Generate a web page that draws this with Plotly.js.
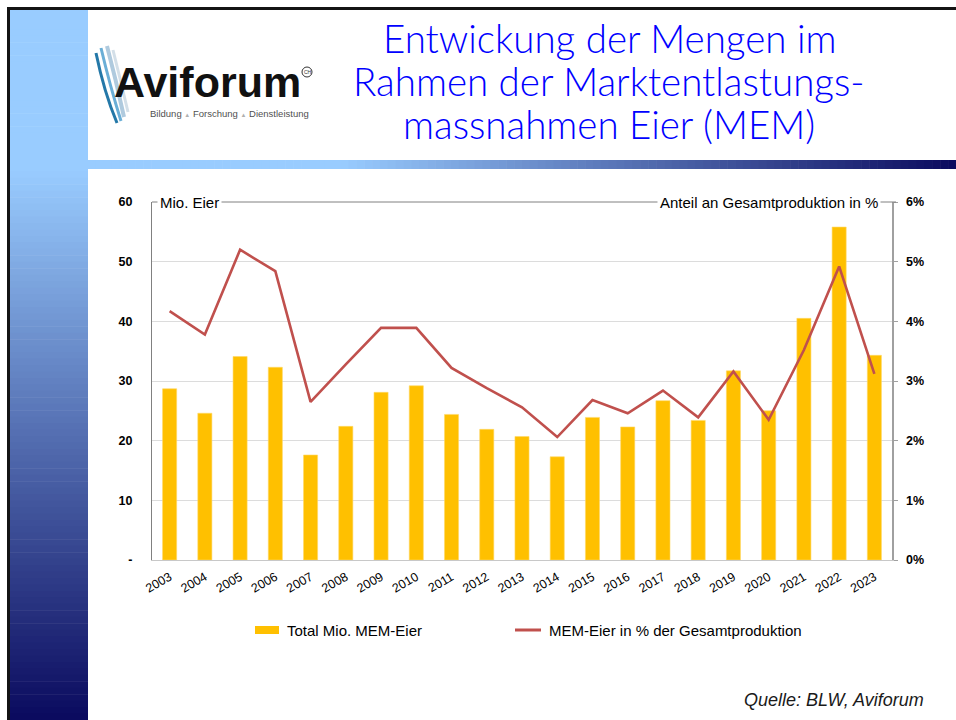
<!DOCTYPE html>
<html>
<head>
<meta charset="utf-8">
<script src="https://cdn.plot.ly/plotly-3.0.1.min.js"></script>
<style>
  html, body { margin: 0; padding: 0; background: #ffffff; }
  #chart { width: 956px; height: 720px; }
</style>
</head>
<body>
<div id="chart"></div>
<script>
// ---- data ----
const years = ['2003','2004','2005','2006','2007','2008','2009','2010','2011','2012','2013',
               '2014','2015','2016','2017','2018','2019','2020','2021','2022','2023'];
const mioEier = [28.7,24.6,34.1,32.3,17.6,22.4,28.1,29.2,24.4,21.9,20.7,
                 17.3,23.9,22.3,26.7,23.4,31.7,25.0,40.5,55.8,34.3];
const anteilProzent = [4.17,3.78,5.20,4.84,2.65,3.28,3.89,3.89,3.22,2.88,2.56,
                       2.06,2.68,2.46,2.84,2.39,3.16,2.35,3.52,4.92,3.12];
const leftTickVals = [0,10,20,30,40,50,60];
const leftTickText = ['-','10','20','30','40','50','60'];
const rightTickVals = [0,1,2,3,4,5,6];
const rightTickText = ['0%','1%','2%','3%','4%','5%','6%'];
const seriesNames = ['Total Mio. MEM-Eier','MEM-Eier in % der Gesamtproduktion'];
const titleLines = ['Entwickung der Mengen im','Rahmen der Marktentlastungs-','massnahmen Eier (MEM)'];
const leftAxisTitle = 'Mio. Eier';
const rightAxisTitle = 'Anteil an Gesamtproduktion in %';
const sourceText = 'Quelle: BLW, Aviforum';
const logoName = 'Aviforum';
const logoTagline = ['Bildung','Forschung','Dienstleistung'];

// ---- geometry helpers (pixel -> paper) ----
const L = 152, R = 892, T = 202, B = 560;
const px = x => (x - L) / (R - L);
const py = y => (B - y) / (B - T);

const BAR = '#FFC000', LINE = '#C0504D';
const shapes = [];
const annotations = [];

function mix(a, b, f) {
  f = Math.max(0, Math.min(1, f));
  return 'rgb(' + a.map((v, i) => Math.round(v + (b[i] - v) * f)).join(',') + ')';
}
const light = [153, 204, 255], navy = [10, 10, 94];

// left vertical gradient strip
const vSteps = 110;
for (let i = 0; i < vSteps; i++) {
  const y0 = 10 + (710 / vSteps) * i, y1 = 10 + (710 / vSteps) * (i + 1) + 0.6;
  const yc = (y0 + y1) / 2;
  const c = mix(light, navy, (yc - 170) / (720 - 170));
  shapes.push({type:'rect', xref:'paper', yref:'paper', layer:'below',
    x0:px(10), x1:px(88), y0:py(y0), y1:py(y1), fillcolor:c, line:{width:0}});
}
// horizontal gradient bar
const hSteps = 110;
for (let i = 0; i < hSteps; i++) {
  const x0 = 88 + (868 / hSteps) * i, x1 = 88 + (868 / hSteps) * (i + 1) + 0.6;
  const xc = (x0 + x1) / 2;
  const c = mix(light, navy, (xc - 340) / (956 - 340));
  shapes.push({type:'rect', xref:'paper', yref:'paper', layer:'below',
    x0:px(x0), x1:px(x1), y0:py(160), y1:py(169), fillcolor:c, line:{width:0}});
}
// black frame
shapes.push({type:'rect', xref:'paper', yref:'paper', layer:'below',
  x0:px(7), x1:px(956), y0:py(7), y1:py(10), fillcolor:'#141414', line:{width:0}});
shapes.push({type:'rect', xref:'paper', yref:'paper', layer:'below',
  x0:px(7), x1:px(10), y0:py(7), y1:py(720), fillcolor:'#141414', line:{width:0}});

// logo feather strokes
const feather = [
  {d:[[113,50],[121,82],[128,112]], c:'#d3dfe8', w:3},
  {d:[[107,46],[116,80],[124,117]], c:'#afcade', w:4},
  {d:[[101,48],[110,86],[121,121]], c:'#6aaed6', w:3},
  {d:[[96,53],[104,92],[117,123]], c:'#2478a8', w:3}
];
feather.forEach(f => {
  const p = f.d.map(q => [px(q[0]), py(q[1])]);
  shapes.push({type:'path', xref:'paper', yref:'paper', layer:'above',
    path:`M ${p[0][0]} ${p[0][1]} Q ${p[1][0]} ${p[1][1]} ${p[2][0]} ${p[2][1]}`,
    line:{color:f.c, width:f.w}});
});
// CH circle
shapes.push({type:'circle', xref:'paper', yref:'paper',
  x0:px(302), x1:px(312), y0:py(67), y1:py(77), line:{color:'#333', width:1}});

// top border line of plot
shapes.push({type:'line', xref:'paper', yref:'paper', x0:0, x1:px(896), y0:1, y1:1,
  line:{color:'#808080', width:1}});

// legend swatches
shapes.push({type:'rect', xref:'paper', yref:'paper', x0:px(255), x1:px(279), y0:py(626), y1:py(634),
  fillcolor:BAR, line:{width:0}});
shapes.push({type:'line', xref:'paper', yref:'paper', x0:px(515), x1:px(541), y0:py(630), y1:py(630),
  line:{color:LINE, width:3}});

// ---- annotations ----
const titleY = [38, 81, 124];
titleLines.forEach((t, i) => annotations.push({
  text:t, xref:'paper', yref:'paper', x:px(609), y:py(titleY[i]), xanchor:'center', yanchor:'middle',
  showarrow:false, font:{family:'Lato, Open Sans, sans-serif', size:38.5, weight:300, color:'#0000FF'}
}));
annotations.push({text:'<b>' + logoName + '</b>', xref:'paper', yref:'paper', x:px(112), y:py(82),
  xanchor:'left', yanchor:'middle', showarrow:false,
  font:{family:'Liberation Sans, Arial', size:43, color:'#111111'}});
annotations.push({text:'CH', xref:'paper', yref:'paper', x:px(308), y:py(72),
  xanchor:'center', yanchor:'middle', showarrow:false,
  font:{family:'Liberation Sans, Arial', size:5, color:'#333'}});
annotations.push({text:logoTagline.join(' <span style="font-size:6px;color:#b0b0b0">▲</span> '),
  xref:'paper', yref:'paper', x:px(148), y:py(113), xanchor:'left', yanchor:'middle', showarrow:false,
  font:{family:'Liberation Sans, Arial', size:9.5, color:'#505050'}});

annotations.push({text:leftAxisTitle, xref:'paper', yref:'paper', x:px(157), y:1,
  xanchor:'left', yanchor:'middle', showarrow:false, bgcolor:'#ffffff', borderpad:2,
  font:{family:'Liberation Sans, Arial', size:15, color:'#000'}});
annotations.push({text:rightAxisTitle, xref:'paper', yref:'paper', x:px(881), y:1,
  xanchor:'right', yanchor:'middle', showarrow:false, bgcolor:'#ffffff', borderpad:2,
  font:{family:'Liberation Sans, Arial', size:15, color:'#000'}});

annotations.push({text:seriesNames[0], xref:'paper', yref:'paper', x:px(285), y:py(630),
  xanchor:'left', yanchor:'middle', showarrow:false,
  font:{family:'Liberation Sans, Arial', size:15, color:'#000'}});
annotations.push({text:seriesNames[1], xref:'paper', yref:'paper', x:px(547), y:py(630),
  xanchor:'left', yanchor:'middle', showarrow:false,
  font:{family:'Liberation Sans, Arial', size:15, color:'#000'}});

annotations.push({text:'<i>' + sourceText + '</i>', xref:'paper', yref:'paper', x:px(926), y:py(700),
  xanchor:'right', yanchor:'middle', showarrow:false,
  font:{family:'Liberation Sans, Arial', size:18, color:'#1a1a1a'}});

// ---- traces ----
const traces = [
  {type:'bar', name:seriesNames[0], x:years, y:mioEier, yaxis:'y',
   marker:{color:BAR, line:{color:'#FFD966', width:0.6}}, width:0.4, hoverinfo:'skip'},
  {type:'scatter', mode:'lines', name:seriesNames[1], x:years, y:anteilProzent, yaxis:'y2',
   line:{color:LINE, width:2.6}, hoverinfo:'skip'}
];

const layout = {
  width:956, height:720,
  margin:{l:L, r:956 - R, t:T, b:720 - B, pad:0},
  paper_bgcolor:'#ffffff', plot_bgcolor:'rgba(0,0,0,0)',
  showlegend:false,
  hovermode:false,
  xaxis:{type:'category', tickangle:-30, ticks:'', showgrid:false,
    showline:true, linecolor:'#c8c8c8', linewidth:1, ticklabelstandoff:4,
    tickfont:{family:'Liberation Sans, Arial', size:12.5, color:'#000'}},
  yaxis:{range:[0,60], tickvals:leftTickVals, ticktext:leftTickText, ticks:'',
    showgrid:true, gridcolor:'#dcdcdc', gridwidth:1, zeroline:false,
    showline:true, linecolor:'#808080', linewidth:1, ticklabelstandoff:16,
    tickfont:{family:'Liberation Sans, Arial', size:12.5, color:'#000', weight:'bold'}},
  yaxis2:{range:[0,6], overlaying:'y', side:'right', tickvals:rightTickVals, ticktext:rightTickText,
    ticks:'outside', ticklen:4, tickcolor:'#a0a0a0', showgrid:false, zeroline:false,
    showline:true, linecolor:'#a0a0a0', linewidth:1.5, ticklabelstandoff:6,
    tickfont:{family:'Liberation Sans, Arial', size:12.5, color:'#000', weight:'bold'}},
  shapes:shapes,
  annotations:annotations
};

Plotly.newPlot('chart', traces, layout, {displayModeBar:false, staticPlot:true});
</script>
</body>
</html>
